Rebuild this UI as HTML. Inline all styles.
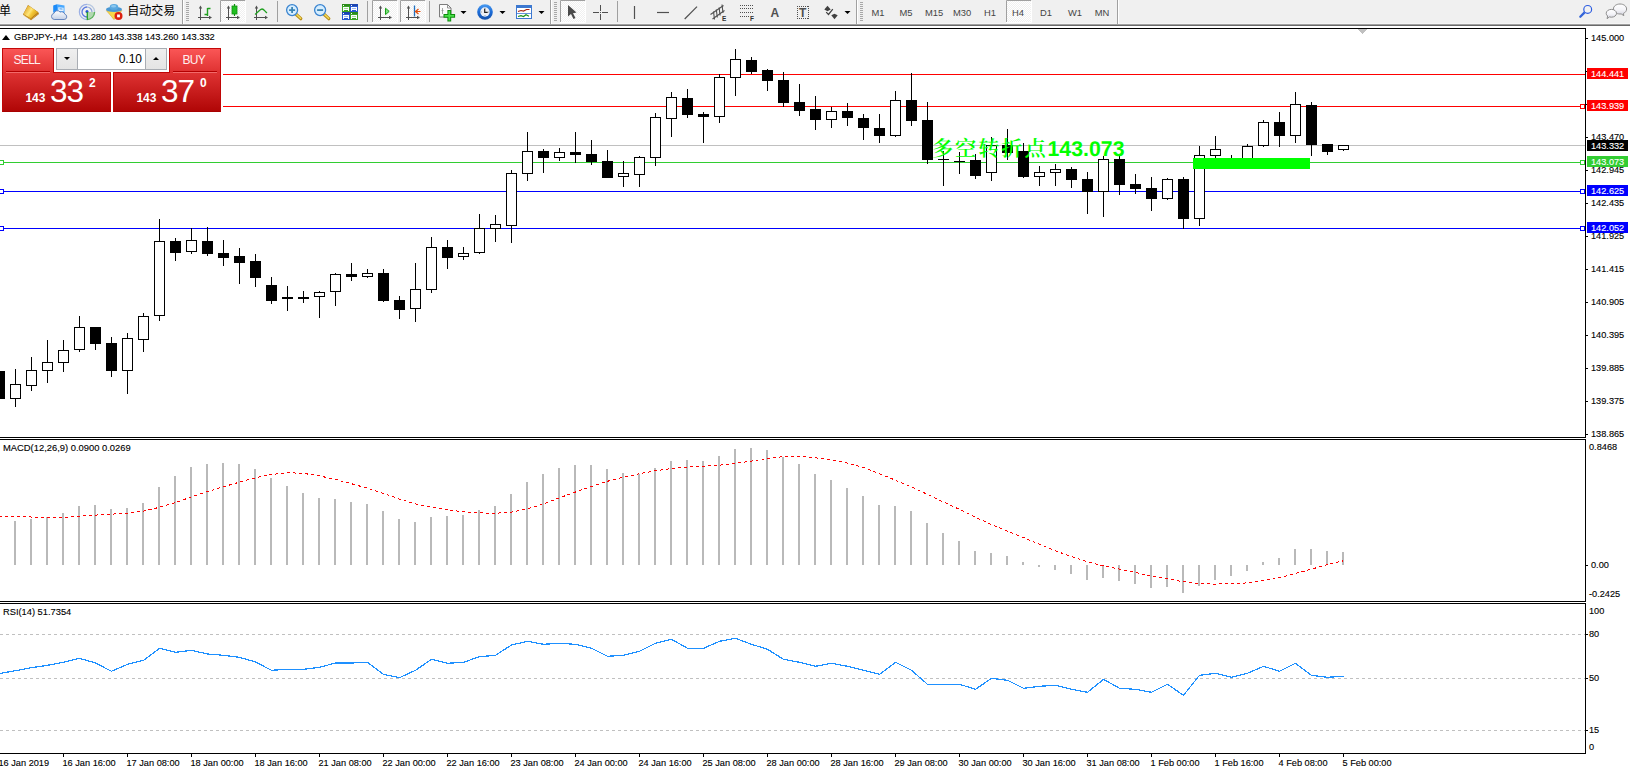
<!DOCTYPE html>
<html lang="zh"><head><meta charset="utf-8"><title>GBPJPY-,H4</title>
<style>
html,body{margin:0;padding:0;background:#fff;}
body{width:1630px;height:774px;overflow:hidden;position:relative;font-family:"Liberation Sans","Noto Sans CJK SC",sans-serif;}
#chart{position:absolute;left:0;top:0;width:1630px;height:774px;}
.ax{position:absolute;font-size:9.2px;line-height:12px;color:#000;white-space:nowrap;letter-spacing:0px;-webkit-text-stroke:0.120px #000;}
.pb{position:absolute;left:1587px;width:41px;height:11px;color:#fff;font-size:9.2px;line-height:12px;padding-left:4px;box-sizing:border-box;white-space:nowrap;-webkit-text-stroke:0.120px #fff;}
#ttl{position:absolute;left:0;top:30.600px;height:13px;font-size:9.300px;line-height:13px;white-space:nowrap;color:#000;}
#ttl .tri{position:absolute;left:2px;top:4px;width:0;height:0;border-left:4px solid transparent;border-right:4px solid transparent;border-bottom:5px solid #000;}
#ttl .tx{position:absolute;left:14px;top:0;-webkit-text-stroke:0.120px #000;}
#oct{position:absolute;left:2px;top:48px;width:219px;height:64px;background:#fff;box-shadow:0 0 0 2px #fff;}
#oct .tab{position:absolute;top:0;width:52px;height:25px;box-sizing:border-box;border:1px solid #c40808;border-bottom:none;background:linear-gradient(#fa5656,#de3030);color:#fff0f0;font-size:12px;line-height:23px;text-align:center;z-index:2;}
#oct .tab span{display:inline-block;letter-spacing:-0.700px;position:relative;left:-1.200px;}
#oct .tab i{position:absolute;left:3px;right:3px;bottom:0;height:1px;background:#f26a6a;}
#oct .tab i:before{content:"";position:absolute;left:0;right:0;top:-1px;height:1px;background:#b40000;}
#oct .spin{position:absolute;left:54px;top:0;width:111px;height:22px;box-sizing:border-box;border:1px solid #a9adb3;background:#fff;}
#oct .sb{position:absolute;top:0;width:20px;height:20px;background:linear-gradient(#efefef,#e4e4e4);}
#oct .sb b{position:absolute;left:7px;top:8px;width:0;height:0;border-left:3px solid transparent;border-right:3px solid transparent;}
#oct .sb b.dn{border-top:3.500px solid #000;}
#oct .sb b.up{border-bottom:3.500px solid #000;}
#oct .inp{position:absolute;left:20px;right:20px;top:0;height:20px;border-left:1px solid #a9adb3;border-right:1px solid #a9adb3;font-size:12px;line-height:21px;text-align:right;padding-right:3px;color:#000;}
#oct .big{position:absolute;top:24px;height:40px;box-sizing:border-box;border:1px solid #c00606;border-bottom-color:#a80000;background:linear-gradient(#de3232,#b00606);color:#fff;z-index:1;}
#oct .big span{position:absolute;white-space:nowrap;}
#oct .big .s{left:22.400px;top:18px;font-size:12px;line-height:14px;font-weight:bold;}
#oct .big .b{left:47px;top:0px;font-size:31.500px;line-height:36px;letter-spacing:-1px;}
#oct .big .p{left:86px;top:2.500px;font-size:12px;line-height:14px;font-weight:bold;}
#tb{position:absolute;left:0;top:0;width:1630px;height:26px;background:linear-gradient(#f0f0f0 0,#f0f0f0 23px,#f5f5f5 23px,#f5f5f5 24px,#a0a0a0 24px,#a0a0a0 25px,#696969 25px,#696969 26px);overflow:hidden;}
#tb .tt{position:absolute;white-space:nowrap;color:#000;line-height:16px;font-family:"Liberation Sans","Noto Sans CJK SC",sans-serif;}
#tb .tf{position:absolute;top:6.500px;width:30px;text-align:center;font-size:9.400px;line-height:12px;color:#454545;white-space:nowrap;}
#tb .tl{position:absolute;color:#505050;line-height:14px;white-space:nowrap;}
#note{position:absolute;left:934px;top:136px;font-family:"Liberation Sans","Noto Serif CJK SC",serif;font-weight:bold;font-size:21.300px;line-height:26px;color:#00ff00;white-space:nowrap;}
#note span{letter-spacing:1.100px;}

</style></head><body>
<svg id="chart" width="1630" height="774" viewBox="0 0 1630 774" shape-rendering="crispEdges">
<rect x="0" y="145" width="1585" height="1" fill="#c0c0c0" />
<rect x="0" y="74" width="1585" height="1" fill="#ff0000" />
<rect x="0" y="106" width="1585" height="1" fill="#ff0000" />
<rect x="0" y="162" width="1585" height="1" fill="#32cd32" />
<rect x="0" y="191" width="1585" height="1" fill="#0000ff" />
<rect x="0" y="228" width="1585" height="1" fill="#0000ff" />
<rect x="-1" y="369" width="1" height="39" fill="#000" />
<rect x="-6" y="371" width="11" height="28" fill="#000" />
<rect x="15" y="369" width="1" height="38" fill="#000" />
<rect x="10" y="384" width="11" height="15" fill="#000" />
<rect x="11" y="385" width="9" height="13" fill="#fff" />
<rect x="31" y="357" width="1" height="34" fill="#000" />
<rect x="26" y="370" width="11" height="16" fill="#000" />
<rect x="27" y="371" width="9" height="14" fill="#fff" />
<rect x="47" y="340" width="1" height="43" fill="#000" />
<rect x="42" y="362" width="11" height="9" fill="#000" />
<rect x="43" y="363" width="9" height="7" fill="#fff" />
<rect x="63" y="340" width="1" height="32" fill="#000" />
<rect x="58" y="350" width="11" height="13" fill="#000" />
<rect x="59" y="351" width="9" height="11" fill="#fff" />
<rect x="79" y="316" width="1" height="36" fill="#000" />
<rect x="74" y="327" width="11" height="23" fill="#000" />
<rect x="75" y="328" width="9" height="21" fill="#fff" />
<rect x="95" y="327" width="1" height="23" fill="#000" />
<rect x="90" y="327" width="11" height="17" fill="#000" />
<rect x="111" y="337" width="1" height="40" fill="#000" />
<rect x="106" y="343" width="11" height="28" fill="#000" />
<rect x="127" y="333" width="1" height="61" fill="#000" />
<rect x="122" y="338" width="11" height="33" fill="#000" />
<rect x="123" y="339" width="9" height="31" fill="#fff" />
<rect x="143" y="313" width="1" height="39" fill="#000" />
<rect x="138" y="316" width="11" height="24" fill="#000" />
<rect x="139" y="317" width="9" height="22" fill="#fff" />
<rect x="159" y="219" width="1" height="102" fill="#000" />
<rect x="154" y="241" width="11" height="75" fill="#000" />
<rect x="155" y="242" width="9" height="73" fill="#fff" />
<rect x="175" y="238" width="1" height="23" fill="#000" />
<rect x="170" y="241" width="11" height="12" fill="#000" />
<rect x="191" y="228" width="1" height="26" fill="#000" />
<rect x="186" y="240" width="11" height="12" fill="#000" />
<rect x="187" y="241" width="9" height="10" fill="#fff" />
<rect x="207" y="227" width="1" height="29" fill="#000" />
<rect x="202" y="241" width="11" height="13" fill="#000" />
<rect x="223" y="240" width="1" height="26" fill="#000" />
<rect x="218" y="253" width="11" height="5" fill="#000" />
<rect x="239" y="248" width="1" height="36" fill="#000" />
<rect x="234" y="256" width="11" height="7" fill="#000" />
<rect x="255" y="254" width="1" height="33" fill="#000" />
<rect x="250" y="261" width="11" height="17" fill="#000" />
<rect x="271" y="277" width="1" height="27" fill="#000" />
<rect x="266" y="285" width="11" height="16" fill="#000" />
<rect x="287" y="286" width="1" height="25" fill="#000" />
<rect x="282" y="297" width="11" height="2" fill="#000" />
<rect x="303" y="291" width="1" height="12" fill="#000" />
<rect x="298" y="297" width="11" height="2" fill="#000" />
<rect x="319" y="291" width="1" height="27" fill="#000" />
<rect x="314" y="292" width="11" height="5" fill="#000" />
<rect x="315" y="293" width="9" height="3" fill="#fff" />
<rect x="335" y="273" width="1" height="33" fill="#000" />
<rect x="330" y="274" width="11" height="18" fill="#000" />
<rect x="331" y="275" width="9" height="16" fill="#fff" />
<rect x="351" y="263" width="1" height="18" fill="#000" />
<rect x="346" y="274" width="11" height="3" fill="#000" />
<rect x="367" y="269" width="1" height="9" fill="#000" />
<rect x="362" y="273" width="11" height="4" fill="#000" />
<rect x="363" y="274" width="9" height="2" fill="#fff" />
<rect x="383" y="269" width="1" height="33" fill="#000" />
<rect x="378" y="273" width="11" height="28" fill="#000" />
<rect x="399" y="296" width="1" height="23" fill="#000" />
<rect x="394" y="300" width="11" height="10" fill="#000" />
<rect x="415" y="263" width="1" height="59" fill="#000" />
<rect x="410" y="289" width="11" height="20" fill="#000" />
<rect x="411" y="290" width="9" height="18" fill="#fff" />
<rect x="431" y="237" width="1" height="56" fill="#000" />
<rect x="426" y="247" width="11" height="43" fill="#000" />
<rect x="427" y="248" width="9" height="41" fill="#fff" />
<rect x="447" y="240" width="1" height="29" fill="#000" />
<rect x="442" y="247" width="11" height="11" fill="#000" />
<rect x="463" y="247" width="1" height="13" fill="#000" />
<rect x="458" y="253" width="11" height="4" fill="#000" />
<rect x="459" y="254" width="9" height="2" fill="#fff" />
<rect x="479" y="214" width="1" height="40" fill="#000" />
<rect x="474" y="228" width="11" height="25" fill="#000" />
<rect x="475" y="229" width="9" height="23" fill="#fff" />
<rect x="495" y="215" width="1" height="27" fill="#000" />
<rect x="490" y="224" width="11" height="5" fill="#000" />
<rect x="491" y="225" width="9" height="3" fill="#fff" />
<rect x="511" y="170" width="1" height="73" fill="#000" />
<rect x="506" y="173" width="11" height="53" fill="#000" />
<rect x="507" y="174" width="9" height="51" fill="#fff" />
<rect x="527" y="132" width="1" height="49" fill="#000" />
<rect x="522" y="151" width="11" height="23" fill="#000" />
<rect x="523" y="152" width="9" height="21" fill="#fff" />
<rect x="543" y="149" width="1" height="24" fill="#000" />
<rect x="538" y="151" width="11" height="7" fill="#000" />
<rect x="559" y="148" width="1" height="13" fill="#000" />
<rect x="554" y="152" width="11" height="6" fill="#000" />
<rect x="555" y="153" width="9" height="4" fill="#fff" />
<rect x="575" y="132" width="1" height="31" fill="#000" />
<rect x="570" y="152" width="11" height="3" fill="#000" />
<rect x="591" y="140" width="1" height="25" fill="#000" />
<rect x="586" y="154" width="11" height="8" fill="#000" />
<rect x="607" y="150" width="1" height="28" fill="#000" />
<rect x="602" y="161" width="11" height="17" fill="#000" />
<rect x="623" y="161" width="1" height="26" fill="#000" />
<rect x="618" y="173" width="11" height="4" fill="#000" />
<rect x="619" y="174" width="9" height="2" fill="#fff" />
<rect x="639" y="156" width="1" height="31" fill="#000" />
<rect x="634" y="157" width="11" height="18" fill="#000" />
<rect x="635" y="158" width="9" height="16" fill="#fff" />
<rect x="655" y="113" width="1" height="53" fill="#000" />
<rect x="650" y="117" width="11" height="41" fill="#000" />
<rect x="651" y="118" width="9" height="39" fill="#fff" />
<rect x="671" y="92" width="1" height="45" fill="#000" />
<rect x="666" y="97" width="11" height="22" fill="#000" />
<rect x="667" y="98" width="9" height="20" fill="#fff" />
<rect x="687" y="89" width="1" height="29" fill="#000" />
<rect x="682" y="98" width="11" height="17" fill="#000" />
<rect x="703" y="112" width="1" height="31" fill="#000" />
<rect x="698" y="114" width="11" height="3" fill="#000" />
<rect x="719" y="74" width="1" height="49" fill="#000" />
<rect x="714" y="77" width="11" height="40" fill="#000" />
<rect x="715" y="78" width="9" height="38" fill="#fff" />
<rect x="735" y="49" width="1" height="47" fill="#000" />
<rect x="730" y="59" width="11" height="19" fill="#000" />
<rect x="731" y="60" width="9" height="17" fill="#fff" />
<rect x="751" y="57" width="1" height="17" fill="#000" />
<rect x="746" y="60" width="11" height="12" fill="#000" />
<rect x="767" y="69" width="1" height="22" fill="#000" />
<rect x="762" y="70" width="11" height="11" fill="#000" />
<rect x="783" y="72" width="1" height="35" fill="#000" />
<rect x="778" y="80" width="11" height="23" fill="#000" />
<rect x="799" y="84" width="1" height="32" fill="#000" />
<rect x="794" y="102" width="11" height="9" fill="#000" />
<rect x="815" y="96" width="1" height="34" fill="#000" />
<rect x="810" y="109" width="11" height="11" fill="#000" />
<rect x="831" y="107" width="1" height="21" fill="#000" />
<rect x="826" y="111" width="11" height="9" fill="#000" />
<rect x="827" y="112" width="9" height="7" fill="#fff" />
<rect x="847" y="103" width="1" height="23" fill="#000" />
<rect x="842" y="111" width="11" height="7" fill="#000" />
<rect x="863" y="114" width="1" height="26" fill="#000" />
<rect x="858" y="118" width="11" height="10" fill="#000" />
<rect x="879" y="114" width="1" height="29" fill="#000" />
<rect x="874" y="128" width="11" height="8" fill="#000" />
<rect x="895" y="91" width="1" height="46" fill="#000" />
<rect x="890" y="100" width="11" height="36" fill="#000" />
<rect x="891" y="101" width="9" height="34" fill="#fff" />
<rect x="911" y="73" width="1" height="53" fill="#000" />
<rect x="906" y="100" width="11" height="21" fill="#000" />
<rect x="927" y="102" width="1" height="62" fill="#000" />
<rect x="922" y="120" width="11" height="40" fill="#000" />
<rect x="943" y="151" width="1" height="35" fill="#000" />
<rect x="938" y="159" width="11" height="1" fill="#000" />
<rect x="959" y="152" width="1" height="22" fill="#000" />
<rect x="954" y="161" width="11" height="1" fill="#000" />
<rect x="975" y="154" width="1" height="25" fill="#000" />
<rect x="970" y="160" width="11" height="16" fill="#000" />
<rect x="991" y="137" width="1" height="44" fill="#000" />
<rect x="986" y="145" width="11" height="28" fill="#000" />
<rect x="987" y="146" width="9" height="26" fill="#fff" />
<rect x="1007" y="129" width="1" height="31" fill="#000" />
<rect x="1002" y="145" width="11" height="8" fill="#000" />
<rect x="1023" y="143" width="1" height="35" fill="#000" />
<rect x="1018" y="151" width="11" height="26" fill="#000" />
<rect x="1039" y="166" width="1" height="20" fill="#000" />
<rect x="1034" y="172" width="11" height="5" fill="#000" />
<rect x="1035" y="173" width="9" height="3" fill="#fff" />
<rect x="1055" y="164" width="1" height="22" fill="#000" />
<rect x="1050" y="169" width="11" height="4" fill="#000" />
<rect x="1051" y="170" width="9" height="2" fill="#fff" />
<rect x="1071" y="167" width="1" height="21" fill="#000" />
<rect x="1066" y="169" width="11" height="11" fill="#000" />
<rect x="1087" y="172" width="1" height="42" fill="#000" />
<rect x="1082" y="179" width="11" height="13" fill="#000" />
<rect x="1103" y="156" width="1" height="61" fill="#000" />
<rect x="1098" y="159" width="11" height="33" fill="#000" />
<rect x="1099" y="160" width="9" height="31" fill="#fff" />
<rect x="1119" y="156" width="1" height="39" fill="#000" />
<rect x="1114" y="159" width="11" height="26" fill="#000" />
<rect x="1135" y="174" width="1" height="20" fill="#000" />
<rect x="1130" y="184" width="11" height="5" fill="#000" />
<rect x="1151" y="177" width="1" height="34" fill="#000" />
<rect x="1146" y="188" width="11" height="11" fill="#000" />
<rect x="1167" y="178" width="1" height="22" fill="#000" />
<rect x="1162" y="179" width="11" height="20" fill="#000" />
<rect x="1163" y="180" width="9" height="18" fill="#fff" />
<rect x="1183" y="177" width="1" height="52" fill="#000" />
<rect x="1178" y="179" width="11" height="40" fill="#000" />
<rect x="1199" y="146" width="1" height="80" fill="#000" />
<rect x="1194" y="155" width="11" height="64" fill="#000" />
<rect x="1195" y="156" width="9" height="62" fill="#fff" />
<rect x="1215" y="136" width="1" height="25" fill="#000" />
<rect x="1210" y="149" width="11" height="7" fill="#000" />
<rect x="1211" y="150" width="9" height="5" fill="#fff" />
<rect x="1231" y="155" width="1" height="8" fill="#000" />
<rect x="1226" y="158" width="11" height="3" fill="#000" />
<rect x="1227" y="159" width="9" height="1" fill="#fff" />
<rect x="1247" y="144" width="1" height="22" fill="#000" />
<rect x="1242" y="146" width="11" height="19" fill="#000" />
<rect x="1243" y="147" width="9" height="17" fill="#fff" />
<rect x="1263" y="120" width="1" height="27" fill="#000" />
<rect x="1258" y="122" width="11" height="24" fill="#000" />
<rect x="1259" y="123" width="9" height="22" fill="#fff" />
<rect x="1279" y="112" width="1" height="35" fill="#000" />
<rect x="1274" y="122" width="11" height="14" fill="#000" />
<rect x="1295" y="92" width="1" height="51" fill="#000" />
<rect x="1290" y="104" width="11" height="32" fill="#000" />
<rect x="1291" y="105" width="9" height="30" fill="#fff" />
<rect x="1311" y="102" width="1" height="54" fill="#000" />
<rect x="1306" y="105" width="11" height="40" fill="#000" />
<rect x="1327" y="144" width="1" height="11" fill="#000" />
<rect x="1322" y="144" width="11" height="8" fill="#000" />
<rect x="1343" y="145" width="1" height="6" fill="#000" />
<rect x="1338" y="145" width="11" height="5" fill="#000" />
<rect x="1339" y="146" width="9" height="3" fill="#fff" />
<text x="932" y="156.3" fill="#00ff00" font-size="21.3" font-weight="bold" style="font-family:'Liberation Sans','Noto Serif CJK SC',serif" text-rendering="geometricPrecision" shape-rendering="auto"><tspan letter-spacing="1.8" font-weight="600">多空转折点</tspan>143.073</text>
<rect x="1193" y="158" width="117" height="11" fill="#00ff00" />
<rect x="1580.5" y="104.5" width="4" height="4" fill="#fff" stroke="#ff0000" stroke-width="1"/>
<rect x="1580.5" y="160.5" width="4" height="4" fill="#fff" stroke="#32cd32" stroke-width="1"/>
<rect x="1580.5" y="189.5" width="4" height="4" fill="#fff" stroke="#0000ff" stroke-width="1"/>
<rect x="1580.5" y="226.5" width="4" height="4" fill="#fff" stroke="#0000ff" stroke-width="1"/>
<rect x="-0.5" y="160.5" width="4" height="4" fill="#fff" stroke="#32cd32" stroke-width="1"/>
<rect x="-0.5" y="189.5" width="4" height="4" fill="#fff" stroke="#0000ff" stroke-width="1"/>
<rect x="-0.5" y="226.5" width="4" height="4" fill="#fff" stroke="#0000ff" stroke-width="1"/>
<polygon points="1357,29 1367,29 1362,34" fill="#c0c0c0"/>
<rect x="14" y="521" width="2" height="44" fill="#b9b9b9" />
<rect x="30" y="519" width="2" height="46" fill="#b9b9b9" />
<rect x="46" y="517" width="2" height="48" fill="#b9b9b9" />
<rect x="62" y="513" width="2" height="52" fill="#b9b9b9" />
<rect x="78" y="506" width="2" height="59" fill="#b9b9b9" />
<rect x="94" y="505" width="2" height="60" fill="#b9b9b9" />
<rect x="110" y="509" width="2" height="56" fill="#b9b9b9" />
<rect x="126" y="508" width="2" height="57" fill="#b9b9b9" />
<rect x="142" y="503" width="2" height="62" fill="#b9b9b9" />
<rect x="158" y="487" width="2" height="78" fill="#b9b9b9" />
<rect x="174" y="476" width="2" height="89" fill="#b9b9b9" />
<rect x="190" y="467" width="2" height="98" fill="#b9b9b9" />
<rect x="206" y="464" width="2" height="101" fill="#b9b9b9" />
<rect x="222" y="463" width="2" height="102" fill="#b9b9b9" />
<rect x="238" y="464" width="2" height="101" fill="#b9b9b9" />
<rect x="254" y="469" width="2" height="96" fill="#b9b9b9" />
<rect x="270" y="478" width="2" height="87" fill="#b9b9b9" />
<rect x="286" y="486" width="2" height="79" fill="#b9b9b9" />
<rect x="302" y="493" width="2" height="72" fill="#b9b9b9" />
<rect x="318" y="498" width="2" height="67" fill="#b9b9b9" />
<rect x="334" y="499" width="2" height="66" fill="#b9b9b9" />
<rect x="350" y="502" width="2" height="63" fill="#b9b9b9" />
<rect x="366" y="504" width="2" height="61" fill="#b9b9b9" />
<rect x="382" y="511" width="2" height="54" fill="#b9b9b9" />
<rect x="398" y="519" width="2" height="46" fill="#b9b9b9" />
<rect x="414" y="522" width="2" height="43" fill="#b9b9b9" />
<rect x="430" y="517" width="2" height="48" fill="#b9b9b9" />
<rect x="446" y="516" width="2" height="49" fill="#b9b9b9" />
<rect x="462" y="515" width="2" height="50" fill="#b9b9b9" />
<rect x="478" y="510" width="2" height="55" fill="#b9b9b9" />
<rect x="494" y="506" width="2" height="59" fill="#b9b9b9" />
<rect x="510" y="494" width="2" height="71" fill="#b9b9b9" />
<rect x="526" y="482" width="2" height="83" fill="#b9b9b9" />
<rect x="542" y="474" width="2" height="91" fill="#b9b9b9" />
<rect x="558" y="468" width="2" height="97" fill="#b9b9b9" />
<rect x="574" y="465" width="2" height="100" fill="#b9b9b9" />
<rect x="590" y="465" width="2" height="100" fill="#b9b9b9" />
<rect x="606" y="469" width="2" height="96" fill="#b9b9b9" />
<rect x="622" y="473" width="2" height="92" fill="#b9b9b9" />
<rect x="638" y="474" width="2" height="91" fill="#b9b9b9" />
<rect x="654" y="468" width="2" height="97" fill="#b9b9b9" />
<rect x="670" y="461" width="2" height="104" fill="#b9b9b9" />
<rect x="686" y="460" width="2" height="105" fill="#b9b9b9" />
<rect x="702" y="461" width="2" height="104" fill="#b9b9b9" />
<rect x="718" y="456" width="2" height="109" fill="#b9b9b9" />
<rect x="734" y="449" width="2" height="116" fill="#b9b9b9" />
<rect x="750" y="448" width="2" height="117" fill="#b9b9b9" />
<rect x="766" y="450" width="2" height="115" fill="#b9b9b9" />
<rect x="782" y="457" width="2" height="108" fill="#b9b9b9" />
<rect x="798" y="464" width="2" height="101" fill="#b9b9b9" />
<rect x="814" y="474" width="2" height="91" fill="#b9b9b9" />
<rect x="830" y="480" width="2" height="85" fill="#b9b9b9" />
<rect x="846" y="488" width="2" height="77" fill="#b9b9b9" />
<rect x="862" y="496" width="2" height="69" fill="#b9b9b9" />
<rect x="878" y="505" width="2" height="60" fill="#b9b9b9" />
<rect x="894" y="506" width="2" height="59" fill="#b9b9b9" />
<rect x="910" y="511" width="2" height="54" fill="#b9b9b9" />
<rect x="926" y="523" width="2" height="42" fill="#b9b9b9" />
<rect x="942" y="533" width="2" height="32" fill="#b9b9b9" />
<rect x="958" y="541" width="2" height="24" fill="#b9b9b9" />
<rect x="974" y="551" width="2" height="14" fill="#b9b9b9" />
<rect x="990" y="553" width="2" height="12" fill="#b9b9b9" />
<rect x="1006" y="556" width="2" height="9" fill="#b9b9b9" />
<rect x="1022" y="562" width="2" height="3" fill="#b9b9b9" />
<rect x="1038" y="565" width="2" height="2" fill="#b9b9b9" />
<rect x="1054" y="565" width="2" height="5" fill="#b9b9b9" />
<rect x="1070" y="565" width="2" height="9" fill="#b9b9b9" />
<rect x="1086" y="565" width="2" height="15" fill="#b9b9b9" />
<rect x="1102" y="565" width="2" height="13" fill="#b9b9b9" />
<rect x="1118" y="565" width="2" height="16" fill="#b9b9b9" />
<rect x="1134" y="565" width="2" height="19" fill="#b9b9b9" />
<rect x="1150" y="565" width="2" height="23" fill="#b9b9b9" />
<rect x="1166" y="565" width="2" height="22" fill="#b9b9b9" />
<rect x="1182" y="565" width="2" height="28" fill="#b9b9b9" />
<rect x="1198" y="565" width="2" height="21" fill="#b9b9b9" />
<rect x="1214" y="565" width="2" height="15" fill="#b9b9b9" />
<rect x="1230" y="565" width="2" height="11" fill="#b9b9b9" />
<rect x="1246" y="565" width="2" height="6" fill="#b9b9b9" />
<rect x="1262" y="562" width="2" height="3" fill="#b9b9b9" />
<rect x="1278" y="558" width="2" height="7" fill="#b9b9b9" />
<rect x="1294" y="549" width="2" height="16" fill="#b9b9b9" />
<rect x="1310" y="549" width="2" height="16" fill="#b9b9b9" />
<rect x="1326" y="551" width="2" height="14" fill="#b9b9b9" />
<rect x="1342" y="552" width="2" height="13" fill="#b9b9b9" />
<polyline fill="none" stroke="#ff0000" stroke-width="1" stroke-dasharray="3,3" shape-rendering="crispEdges" points="-1,516.0 15,516.2 31,517.0 47,517.4 63,517.3 79,516.3 95,515.1 111,514.2 127,513.1 143,511.2 159,507.4 175,502.7 191,497.1 207,491.7 223,486.9 239,482.3 255,477.9 271,474.6 287,472.7 303,473.3 319,475.8 335,479.3 351,483.6 367,488.1 383,493.3 399,498.9 415,503.8 431,507.2 447,509.8 463,511.7 479,512.9 495,513.3 511,512.2 527,509.0 543,504.0 559,498.0 575,492.2 591,486.6 607,481.4 623,477.3 639,473.8 655,470.9 671,468.6 687,467.0 703,466.2 719,465.2 735,463.4 751,461.1 767,458.6 783,456.7 799,456.2 815,457.7 831,459.9 847,462.9 863,467.3 879,473.6 895,480.0 911,486.8 927,494.1 943,501.8 959,509.2 975,517.1 991,524.3 1007,531.0 1023,537.3 1039,544.1 1055,550.7 1071,556.3 1087,561.6 1103,565.7 1119,569.0 1135,572.4 1151,576.0 1167,578.8 1183,581.7 1199,583.4 1215,584.1 1231,583.7 1247,582.9 1263,580.8 1279,577.9 1295,573.6 1311,569.3 1327,564.7 1343,560.9"/>
<line x1="0" x2="1585" y1="634.5" y2="634.5" stroke="#c0c0c0" stroke-width="1" stroke-dasharray="3,3"/>
<line x1="0" x2="1585" y1="678.5" y2="678.5" stroke="#c0c0c0" stroke-width="1" stroke-dasharray="3,3"/>
<line x1="0" x2="1585" y1="730.5" y2="730.5" stroke="#c0c0c0" stroke-width="1" stroke-dasharray="3,3"/>
<polyline fill="none" stroke="#1e90ff" stroke-width="1.2" points="-0.5,673.5 15.5,670.7 31.5,667.7 47.5,665.3 63.5,662.3 79.5,658.3 95.5,663.0 111.5,671.3 127.5,664.3 143.5,660.3 159.5,648.3 175.5,652.3 191.5,650.3 207.5,654.0 223.5,655.3 239.5,657.3 255.5,662.0 271.5,670.3 287.5,669.3 303.5,669.3 319.5,667.3 335.5,663.0 351.5,663.0 367.5,662.3 383.5,674.3 399.5,677.7 415.5,670.3 431.5,659.3 447.5,663.3 463.5,662.3 479.5,656.7 495.5,655.3 511.5,645.0 527.5,641.3 543.5,644.3 559.5,643.3 575.5,644.3 591.5,648.3 607.5,656.3 623.5,655.3 639.5,651.3 655.5,643.3 671.5,639.3 687.5,648.3 703.5,648.3 719.5,641.3 735.5,638.3 751.5,644.3 767.5,649.3 783.5,659.3 799.5,662.3 815.5,666.3 831.5,663.3 847.5,666.3 863.5,670.3 879.5,674.3 895.5,662.3 911.5,670.3 927.5,684.3 943.5,684.3 959.5,684.3 975.5,689.3 991.5,678.3 1007.5,680.3 1023.5,688.3 1039.5,686.3 1055.5,685.3 1071.5,689.3 1087.5,692.3 1103.5,679.3 1119.5,688.3 1135.5,689.3 1151.5,692.3 1167.5,684.3 1183.5,695.3 1199.5,675.3 1215.5,673.3 1231.5,677.3 1247.5,673.3 1263.5,666.3 1279.5,671.3 1295.5,663.3 1311.5,675.3 1327.5,677.3 1343.5,676.3"/>
<rect x="0" y="28" width="1586" height="1" fill="#000" />
<rect x="0" y="437" width="1586" height="1" fill="#000" />
<rect x="1585" y="28" width="1" height="410" fill="#000" />
<rect x="0" y="439" width="1586" height="1" fill="#000" />
<rect x="0" y="601" width="1586" height="1" fill="#000" />
<rect x="1585" y="439" width="1" height="163" fill="#000" />
<rect x="0" y="603" width="1586" height="1" fill="#000" />
<rect x="0" y="753" width="1586" height="1" fill="#000" />
<rect x="1585" y="603" width="1" height="151" fill="#000" />
<rect x="1586" y="38" width="2" height="1" fill="#000" />
<rect x="1586" y="71" width="2" height="1" fill="#000" />
<rect x="1586" y="104" width="2" height="1" fill="#000" />
<rect x="1586" y="137" width="2" height="1" fill="#000" />
<rect x="1586" y="170" width="2" height="1" fill="#000" />
<rect x="1586" y="203" width="2" height="1" fill="#000" />
<rect x="1586" y="236" width="2" height="1" fill="#000" />
<rect x="1586" y="269" width="2" height="1" fill="#000" />
<rect x="1586" y="302" width="2" height="1" fill="#000" />
<rect x="1586" y="335" width="2" height="1" fill="#000" />
<rect x="1586" y="368" width="2" height="1" fill="#000" />
<rect x="1586" y="401" width="2" height="1" fill="#000" />
<rect x="1586" y="434" width="2" height="1" fill="#000" />
<rect x="1586" y="565" width="2" height="1" fill="#000" />
<rect x="1586" y="634" width="2" height="1" fill="#000" />
<rect x="1586" y="678" width="2" height="1" fill="#000" />
<rect x="1586" y="730" width="2" height="1" fill="#000" />
<rect x="-1" y="754" width="1" height="3" fill="#000" />
<rect x="63" y="754" width="1" height="3" fill="#000" />
<rect x="127" y="754" width="1" height="3" fill="#000" />
<rect x="191" y="754" width="1" height="3" fill="#000" />
<rect x="255" y="754" width="1" height="3" fill="#000" />
<rect x="319" y="754" width="1" height="3" fill="#000" />
<rect x="383" y="754" width="1" height="3" fill="#000" />
<rect x="447" y="754" width="1" height="3" fill="#000" />
<rect x="511" y="754" width="1" height="3" fill="#000" />
<rect x="575" y="754" width="1" height="3" fill="#000" />
<rect x="639" y="754" width="1" height="3" fill="#000" />
<rect x="703" y="754" width="1" height="3" fill="#000" />
<rect x="767" y="754" width="1" height="3" fill="#000" />
<rect x="831" y="754" width="1" height="3" fill="#000" />
<rect x="895" y="754" width="1" height="3" fill="#000" />
<rect x="959" y="754" width="1" height="3" fill="#000" />
<rect x="1023" y="754" width="1" height="3" fill="#000" />
<rect x="1087" y="754" width="1" height="3" fill="#000" />
<rect x="1151" y="754" width="1" height="3" fill="#000" />
<rect x="1215" y="754" width="1" height="3" fill="#000" />
<rect x="1279" y="754" width="1" height="3" fill="#000" />
<rect x="1343" y="754" width="1" height="3" fill="#000" />
</svg>
<div class="ax" style="left:1591px;top:32px">145.000</div>
<div class="ax" style="left:1591px;top:131px">143.470</div>
<div class="ax" style="left:1591px;top:164px">142.945</div>
<div class="ax" style="left:1591px;top:197px">142.435</div>
<div class="ax" style="left:1591px;top:230px">141.925</div>
<div class="ax" style="left:1591px;top:263px">141.415</div>
<div class="ax" style="left:1591px;top:296px">140.905</div>
<div class="ax" style="left:1591px;top:329px">140.395</div>
<div class="ax" style="left:1591px;top:362px">139.885</div>
<div class="ax" style="left:1591px;top:395px">139.375</div>
<div class="ax" style="left:1591px;top:428px">138.865</div>
<div class="pb" style="top:68px;background:#ff0000">144.441</div>
<div class="pb" style="top:100px;background:#ff0000">143.939</div>
<div class="pb" style="top:140px;background:#000000">143.332</div>
<div class="pb" style="top:156px;background:#32cd32">143.073</div>
<div class="pb" style="top:185px;background:#0000ff">142.625</div>
<div class="pb" style="top:222px;background:#0000ff">142.052</div>
<div class="ax" style="left:1589px;top:441px">0.8468</div>
<div class="ax" style="left:1591px;top:559px">0.00</div>
<div class="ax" style="left:1589px;top:588px">-0.2425</div>
<div class="ax" style="left:1589px;top:605px">100</div>
<div class="ax" style="left:1589px;top:628px">80</div>
<div class="ax" style="left:1589px;top:672px">50</div>
<div class="ax" style="left:1589px;top:724px">15</div>
<div class="ax" style="left:1589px;top:741px">0</div>
<div class="ax" style="left:-1.5px;top:757px">16 Jan 2019</div>
<div class="ax" style="left:62.5px;top:757px">16 Jan 16:00</div>
<div class="ax" style="left:126.5px;top:757px">17 Jan 08:00</div>
<div class="ax" style="left:190.5px;top:757px">18 Jan 00:00</div>
<div class="ax" style="left:254.5px;top:757px">18 Jan 16:00</div>
<div class="ax" style="left:318.5px;top:757px">21 Jan 08:00</div>
<div class="ax" style="left:382.5px;top:757px">22 Jan 00:00</div>
<div class="ax" style="left:446.5px;top:757px">22 Jan 16:00</div>
<div class="ax" style="left:510.5px;top:757px">23 Jan 08:00</div>
<div class="ax" style="left:574.5px;top:757px">24 Jan 00:00</div>
<div class="ax" style="left:638.5px;top:757px">24 Jan 16:00</div>
<div class="ax" style="left:702.5px;top:757px">25 Jan 08:00</div>
<div class="ax" style="left:766.5px;top:757px">28 Jan 00:00</div>
<div class="ax" style="left:830.5px;top:757px">28 Jan 16:00</div>
<div class="ax" style="left:894.5px;top:757px">29 Jan 08:00</div>
<div class="ax" style="left:958.5px;top:757px">30 Jan 00:00</div>
<div class="ax" style="left:1022.5px;top:757px">30 Jan 16:00</div>
<div class="ax" style="left:1086.5px;top:757px">31 Jan 08:00</div>
<div class="ax" style="left:1150.5px;top:757px">1 Feb 00:00</div>
<div class="ax" style="left:1214.5px;top:757px">1 Feb 16:00</div>
<div class="ax" style="left:1278.5px;top:757px">4 Feb 08:00</div>
<div class="ax" style="left:1342.5px;top:757px">5 Feb 00:00</div>
<div class="ax" style="left:3px;top:442px;font-size:9.400px">MACD(12,26,9) 0.0900 0.0269</div>
<div class="ax" style="left:3px;top:606px;font-size:9.300px">RSI(14) 51.7354</div>
<div id="ttl"><span class="tri"></span><span class="tx">GBPJPY-,H4&nbsp; 143.280 143.338 143.260 143.332</span></div>
<div id="oct">
  <div class="tab" style="left:0"><span>SELL</span><i></i></div>
  <div class="tab" style="left:167px"><span>BUY</span><i></i></div>
  <div class="spin"><div class="sb" style="left:0"><b class="dn"></b></div><div class="inp">0.10</div><div class="sb" style="right:0"><b class="up"></b></div></div>
  <div class="big" style="left:0;width:109px"><span class="s">143</span><span class="b">33</span><span class="p">2</span></div>
  <div class="big" style="left:111px;width:108px"><span class="s">143</span><span class="b">37</span><span class="p">0</span></div>
</div>

<div id="tb">
<svg width="1630" height="28" viewBox="0 0 1630 28" style="position:absolute;left:0;top:0">
<defs>
<pattern id="hat" width="2" height="2" patternUnits="userSpaceOnUse"><rect width="2" height="2" fill="#f0f0f0"/><rect width="1" height="1" fill="#fff"/><rect x="1" y="1" width="1" height="1" fill="#fff"/></pattern>
<linearGradient id="gold" x1="0" y1="0" x2="1" y2="1"><stop offset="0" stop-color="#ffe070"/><stop offset="1" stop-color="#c88a10"/></linearGradient>
<linearGradient id="blu" x1="0" y1="0" x2="0" y2="1"><stop offset="0" stop-color="#6ab0f0"/><stop offset="1" stop-color="#1c5fc0"/></linearGradient>
<linearGradient id="grn" x1="0" y1="0" x2="0" y2="1"><stop offset="0" stop-color="#60d040"/><stop offset="1" stop-color="#109010"/></linearGradient>
<linearGradient id="gold2" x1="0" y1="0.2" x2="1" y2="0.800"><stop offset="0" stop-color="#d89818"/><stop offset="0.450" stop-color="#ffe67a"/><stop offset="0.600" stop-color="#f4c838"/><stop offset="1" stop-color="#c88c14"/></linearGradient><linearGradient id="cld" x1="0" y1="0" x2="0" y2="1"><stop offset="0" stop-color="#ffffff"/><stop offset="1" stop-color="#c4d0e6"/></linearGradient>
<linearGradient id="clk" x1="0" y1="0" x2="0" y2="1"><stop offset="0" stop-color="#4c9cf0"/><stop offset="0.500" stop-color="#1c6cd8"/><stop offset="1" stop-color="#1450a8"/></linearGradient>
<linearGradient id="bub" x1="0" y1="0" x2="0" y2="1"><stop offset="0" stop-color="#ffffff"/><stop offset="0.500" stop-color="#f4f4f8"/><stop offset="1" stop-color="#d0d0dc"/></linearGradient>
<g id="sep"><rect x="0" y="1" width="1" height="21" fill="#a0a0a0"/></g>
<g id="sep2"><rect x="0" y="0" width="1" height="24" fill="#a0a0a0"/><rect x="1" y="0" width="1" height="24" fill="#fff"/></g>
<g id="grip"><path d="M0 2.5h3M0 4.5h3M0 6.5h3M0 8.5h3M0 10.5h3M0 12.5h3M0 14.5h3M0 16.5h3M0 18.5h3M0 20.5h3" stroke="#a8a8a8" stroke-width="1"/></g>
<g id="dd"><polygon points="0,0 6,0 3,3" fill="#000"/></g>
<g id="axes"><path d="M3.5 7v13M1 17.5h12" fill="none" stroke="#505050" stroke-width="1"/><polygon points="1.800,8.500 3.500,5.500 5.200,8.500" fill="#505050"/><polygon points="12,15.800 15,17.500 12,19.200" fill="#505050"/></g>
</defs>
<!-- selected button backgrounds -->
<g id="selbtns">
<g transform="translate(220,0)"><rect width="25" height="22" fill="url(#hat)"/><path d="M0.5 22V0.5H25" fill="none" stroke="#a0a0a0"/><path d="M0 22.5H25.5V1" fill="none" stroke="#fff"/></g>
<g transform="translate(372,0)"><rect width="25" height="22" fill="url(#hat)"/><path d="M0.5 22V0.5H25" fill="none" stroke="#a0a0a0"/><path d="M0 22.5H25.5V1" fill="none" stroke="#fff"/></g>
<g transform="translate(400,0)"><rect width="25" height="22" fill="url(#hat)"/><path d="M0.5 22V0.5H25" fill="none" stroke="#a0a0a0"/><path d="M0 22.5H25.5V1" fill="none" stroke="#fff"/></g>
<g transform="translate(560,0)"><rect width="25" height="22" fill="url(#hat)"/><path d="M0.5 22V0.5H25" fill="none" stroke="#a0a0a0"/><path d="M0 22.5H25.5V1" fill="none" stroke="#fff"/></g>
<g transform="translate(1006,0)"><rect width="25" height="22" fill="url(#hat)"/><path d="M0.5 22V0.5H25" fill="none" stroke="#a0a0a0"/><path d="M0 22.5H25.5V1" fill="none" stroke="#fff"/></g>
</g>
<!-- separators and grips -->
<use href="#sep2" x="182" y="0"/><use href="#grip" x="186" y="0"/>
<use href="#sep" x="277" y="0"/>
<use href="#sep" x="367" y="0"/>
<use href="#sep" x="429" y="0"/>
<use href="#sep2" x="550" y="0"/><use href="#grip" x="554" y="0"/>
<use href="#sep" x="617" y="0"/>
<use href="#sep2" x="856" y="0"/><use href="#grip" x="860" y="0"/>
<use href="#sep2" x="1117" y="0"/>
<!-- 1 diamond/book -->
<g>
<polygon points="23,14.600 27.300,6.600 28,5 38.300,12.200 39,14 31,20.200" fill="#a86c10"/>
<polygon points="23.300,14 28.100,5.300 38.200,12.300 30.800,18.600" fill="url(#gold2)"/>
<path d="M23.600 15.200l7.400 4.200 7.600-6" stroke="#e8b848" stroke-width="0.700" fill="none"/>
</g>
<!-- 2 cloud + doc -->
<g>
<polygon points="53.200,5.600 57,4.200 57,13.200 53.200,12.600" fill="#1e8cf8"/>
<polygon points="57,4.200 64.500,5.400 64.500,13.600 57,13.200" fill="#48a8ff"/>
<polygon points="58.300,7.300 63.600,7.800 63.600,11.200 58.300,10.900" fill="#e4f2ff"/>
<path d="M59.500 8.800l3 .300" stroke="#3a90e8" stroke-width="0.900"/>
<path d="M54.200 19.500a3.100 3.100 0 0 1-.300-6.100a3.600 3.600 0 0 1 6.300-1.300a3.300 3.300 0 0 1 4.600 2.100a2.700 2.700 0 0 1-.600 5.300z" fill="url(#cld)" stroke="#5a7cb8" stroke-width="0.900"/>
</g>
<!-- 3 signal -->
<g fill="none">
<path d="M87 12L87 19.600A7.600 7.600 0 0 0 94.600 12z" fill="#7cc47c" opacity="0.550"/>
<path d="M87 4.300a7.600 7.600 0 0 0 0 15.300" stroke="#9cb0e4" stroke-width="1.200"/>
<path d="M87 4.300a7.600 7.600 0 0 1 7.600 7.600" stroke="#b8c8e0" stroke-width="1.200"/>
<path d="M87 19.600a7.600 7.600 0 0 0 7.600-7.600" stroke="#58b058" stroke-width="1.300"/>
<path d="M87 7a5 5 0 0 0 0 10" stroke="#5a78e0" stroke-width="1.300"/>
<path d="M87 7a5 5 0 0 1 5 5" stroke="#8ca4d8" stroke-width="1.200"/>
<circle cx="87" cy="11.600" r="1.500" fill="#2454d0"/>
<path d="M87.300 12v7.800" stroke="#28a028" stroke-width="1.300"/>
</g>
<!-- 4 autotrading -->
<g>
<polygon points="106.400,10.600 121.800,10.600 116.500,16.500 114,19.600 111.500,16.500" fill="#f8d848" stroke="#d4a428" stroke-width="0.600"/>
<ellipse cx="114" cy="9.400" rx="8" ry="2.700" fill="#4a98d4"/>
<ellipse cx="114" cy="6.900" rx="4.300" ry="2.900" fill="#5aa8e0"/>
<ellipse cx="113.600" cy="6.200" rx="2.600" ry="1.300" fill="#8cc8f0"/>
<circle cx="118.500" cy="15.900" r="4" fill="#dc2010"/>
<rect x="117.100" y="14.500" width="2.800" height="2.800" fill="#fff"/>
</g>
<!-- 5 bar chart -->
<use href="#axes" x="197" y="0"/>
<path d="M207.5 8v8M207.5 8.5h3M204.5 14.5h3" stroke="#20a020" stroke-width="1.4" fill="none"/>
<!-- 6 candle -->
<use href="#axes" x="225" y="0"/>
<path d="M234.5 4v12" stroke="#109010" stroke-width="1.2"/><rect x="232" y="6" width="5" height="8" fill="#20c020" stroke="#109010" stroke-width="0.8"/>
<!-- 7 line chart -->
<use href="#axes" x="253" y="0"/>
<path d="M255 14.5c3-2 5-5.5 7-5.5s3 2.500 5 4" stroke="#20a020" stroke-width="1.3" fill="none"/>
<!-- 8 zoom in -->
<g>
<path d="M296.300 14.500l4.500 4.200" stroke="#b88c18" stroke-width="3.200" stroke-linecap="round"/>
<path d="M296.300 14.300l4.300 4" stroke="#f4dc58" stroke-width="1.500" stroke-linecap="round"/>
<circle cx="292.100" cy="10.100" r="5.500" fill="#d6eeff" stroke="#3a84d0" stroke-width="1.300"/>
<path d="M289.100 10.100h6M292.100 7.100v6" stroke="#3c84b4" stroke-width="1.800"/>
</g>
<!-- 9 zoom out -->
<g>
<path d="M324.300 14.500l4.500 4.200" stroke="#b88c18" stroke-width="3.200" stroke-linecap="round"/>
<path d="M324.300 14.300l4.300 4" stroke="#f4dc58" stroke-width="1.500" stroke-linecap="round"/>
<circle cx="320.100" cy="10.100" r="5.500" fill="#d6eeff" stroke="#3a84d0" stroke-width="1.300"/>
<path d="M317.100 10.100h6" stroke="#3c84b4" stroke-width="1.800"/>
</g>
<!-- 10 tile grid -->
<g>
<rect x="342" y="4" width="8" height="8" fill="#3aa424"/><rect x="342" y="4" width="8" height="2" fill="#2c8c1c"/><rect x="343" y="5" width="1" height="1" fill="#fff"/><rect x="343" y="7" width="6" height="4" fill="#fafcff"/><rect x="344" y="8" width="4" height="1" fill="#a4dc94"/><rect x="344" y="10" width="4" height="1" fill="#3aa424"/><rect x="350" y="4" width="8" height="8" fill="#2658d0"/><rect x="350" y="4" width="8" height="2" fill="#1c44b0"/><rect x="351" y="5" width="1" height="1" fill="#fff"/><rect x="351" y="7" width="6" height="4" fill="#fafcff"/><rect x="352" y="8" width="4" height="1" fill="#9cb4f4"/><rect x="352" y="10" width="4" height="1" fill="#2658d0"/><rect x="342" y="12" width="8" height="8" fill="#2658d0"/><rect x="342" y="12" width="8" height="2" fill="#1c44b0"/><rect x="343" y="13" width="1" height="1" fill="#fff"/><rect x="343" y="15" width="6" height="4" fill="#fafcff"/><rect x="344" y="16" width="4" height="1" fill="#9cb4f4"/><rect x="344" y="18" width="4" height="1" fill="#2658d0"/><rect x="350" y="12" width="8" height="8" fill="#3aa424"/><rect x="350" y="12" width="8" height="2" fill="#2c8c1c"/><rect x="351" y="13" width="1" height="1" fill="#fff"/><rect x="351" y="15" width="6" height="4" fill="#fafcff"/><rect x="352" y="16" width="4" height="1" fill="#a4dc94"/><rect x="352" y="18" width="4" height="1" fill="#3aa424"/>
</g>
<!-- 11 autoscroll -->
<use href="#axes" x="377" y="0"/>
<polygon points="385.500,8.200 389.200,11.400 385.500,14.600" fill="#7ce07c" stroke="#18a018" stroke-width="1"/>
<!-- 12 chart shift -->
<use href="#axes" x="405" y="0"/>
<path d="M414.500 5.500v11" stroke="#2070c0" stroke-width="1.3"/>
<path d="M420.500 11.500h-4.500M418.500 9l-3 2.500 3 2.500" stroke="#e05010" stroke-width="1.2" fill="none"/>
<!-- 13 new indicator -->
<g>
<path d="M439.500 4.500h8l3.500 3.500v9h-11.500z" fill="#fbfbfb" stroke="#7c7c7c" stroke-width="1"/><path d="M447.500 4.500v3.500h3.500" fill="none" stroke="#7c7c7c" stroke-width="0.800"/>
<path d="M442.500 8v6M441.500 10.500h2" stroke="#909090" stroke-width="0.8"/>
<path d="M449.300 10v11.500M443.500 15.800h11.600" stroke="#0c8c0c" stroke-width="3.800"/>
<path d="M449.300 11v9.500M444.500 15.800h9.600" stroke="#48e048" stroke-width="1.800"/>
</g>
<use href="#dd" x="460.500" y="11"/>
<!-- 14 clock -->
<g>
<circle cx="485" cy="12" r="7.800" fill="url(#clk)"/>
<circle cx="485" cy="12" r="4.700" fill="#eef0f4"/>
<path d="M485 8v1M485 15v1M481 12h1M488 12h1" stroke="#8c94a0" stroke-width="0.800"/>
<path d="M484.700 8.800v3.500h3" stroke="#202020" stroke-width="1.200" fill="none"/>
</g>
<use href="#dd" x="499.500" y="11"/>
<!-- 15 template -->
<g>
<rect x="516.500" y="5.500" width="15" height="13" fill="#fff" stroke="#3c78d0" stroke-width="1"/>
<rect x="516" y="5" width="16" height="3" fill="#3c78d0"/>
<path d="M518 11.500l3-1 2.500.500 3-1.500 3 0" stroke="#a82410" stroke-width="1.200" fill="none"/>
<path d="M516 13.500h16" stroke="#3c78d0" stroke-width="0.800"/>
<path d="M518 16.500l3-.800 2.500.800 2.500-1.800 3 1.500" stroke="#189018" stroke-width="1.200" fill="none"/>
</g>
<use href="#dd" x="538.500" y="11"/>
<!-- 16 cursor -->
<polygon points="568,5 568,16.500 571,14 573.500,19 575.500,18 573,13.200 576.500,12.500" fill="#4a4a4a"/>
<!-- 17 crosshair -->
<path d="M600.500 5v6M600.500 14v6M593 12.500h6M602 12.500h6M600 12.500h1" stroke="#505050" stroke-width="1"/>
<!-- 18 vline -->
<path d="M634.500 6v13" stroke="#505050" stroke-width="1.200"/>
<!-- 19 hline -->
<path d="M657 12.500h12" stroke="#505050" stroke-width="1.200"/>
<!-- 20 trendline -->
<path d="M684.700 19L697 6.700" stroke="#505050" stroke-width="1.200"/>
<!-- 21 channel -->
<g stroke="#505050" stroke-width="1.100" fill="none">
<path d="M710.500 14.500l13-9M712.500 19l12-8.500"/>
<path d="M713.500 11.500l1 8M716.300 9.500l1 8M719.100 7.500l1 8M722 4.500l1 8.500"/>
</g>
<!-- 22 fib -->
<g stroke="#505050" stroke-width="1" stroke-dasharray="1,1" fill="none">
<path d="M740 5.500h13M740 8.500h13M740 12.500h13M740 16.500h9"/>
</g>
<!-- 25 arrows -->
<g fill="#404040">
<polygon points="824.300,9.500 827.500,5.800 830.700,9.500 827.500,11.200"/>
<polygon points="831.300,15.300 834.500,13.800 837.700,15.300 834.500,19.200"/>
<path d="M826.200 12.200l2.300 2.300 4.300-5.300" stroke="#404040" stroke-width="1.200" fill="none"/>
</g>
<use href="#dd" x="844.500" y="11"/>
<!-- T box -->
<path d="M797 6.500h12M797 18.500h12M797.500 6v13M808.500 6v13" fill="none" stroke="#505050" stroke-width="1" stroke-dasharray="1,1"/>
<!-- right magnifier -->
<g>
<path d="M1584.600 12.400l-4.300 4.400" stroke="#3464d8" stroke-width="2.300" stroke-linecap="round"/>
<circle cx="1587.700" cy="9.400" r="3.900" fill="#f2f2f2" stroke="#2c5ce0" stroke-width="1.200"/>
</g>
<!-- chat bubbles -->
<g stroke="#8e8e8e" stroke-width="1">
<path d="M1620 4c3.800 0 6.600 2.200 6.600 5c0 2-1.400 3.600-3.200 4.400l.400 2.300-2.600-1.800c-.400 0-.800.100-1.200.100c-3.800 0-6.600-2.200-6.600-5s2.800-5 6.600-5z" fill="url(#bub)"/>
<path d="M1611.400 9.400c2.900 0 5.100 1.700 5.100 3.900s-2.200 3.900-5.100 3.900c-.700 0-1.400-.100-2-.300l-2.300 1.800.500-2.700c-.900-.700-1.400-1.600-1.400-2.700c0-2.200 2.300-3.900 5.200-3.900z" fill="url(#bub)"/>
</g>
</svg>
<div class="tt" style="left:-1px;top:3.300px;font-size:12px">单</div>
<div class="tt" style="left:127.300px;top:3.300px;font-size:12px;letter-spacing:-0.050px">自动交易</div>
<div class="tl" style="left:770.500px;top:5.500px;font-size:12px;font-weight:bold;">A</div>
<div class="tl" style="left:799px;top:6px;font-size:12px;font-weight:bold;">T</div>
<div class="tl" style="left:722px;top:11.500px;font-size:6.500px;font-weight:bold;color:#303030;">E</div>
<div class="tl" style="left:750px;top:11.500px;font-size:6.500px;font-weight:bold;color:#303030;">F</div>
<div class="tf" style="left:863px">M1</div>
<div class="tf" style="left:891px">M5</div>
<div class="tf" style="left:919px">M15</div>
<div class="tf" style="left:947px">M30</div>
<div class="tf" style="left:975px">H1</div>
<div class="tf" style="left:1003px">H4</div>
<div class="tf" style="left:1031px">D1</div>
<div class="tf" style="left:1060px">W1</div>
<div class="tf" style="left:1087px">MN</div>
</div>

</body></html>
